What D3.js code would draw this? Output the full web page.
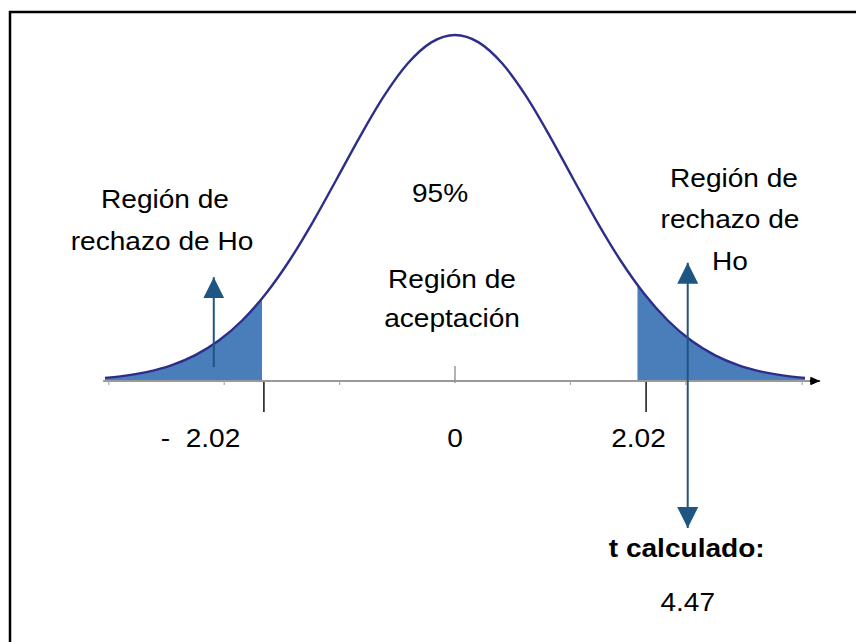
<!DOCTYPE html>
<html>
<head>
<meta charset="utf-8">
<script src="https://cdn.jsdelivr.net/npm/d3@7"></script>
<style>
  html, body { margin: 0; padding: 0; background: #fff; }
  svg { display: block; }
  text { font-family: "Liberation Sans", Arial, sans-serif; fill: #000; white-space: pre; }
</style>
</head>
<body>
<svg id="chart" width="856" height="642"></svg>
<script>
// ---- data ----
const tValues  = [-3.7, -3.5, -3.25, -3.0, -2.75, -2.5, -2.25, -2.0, -1.75, -1.5, -1.25, -1.0, -0.75, -0.5, -0.25, 0,
                  0.25, 0.5, 0.75, 1.0, 1.25, 1.5, 1.75, 2.0, 2.25, 2.5, 2.75, 3.0, 3.25, 3.5, 3.7];
const density  = [0.009, 0.0147, 0.0263, 0.0451, 0.074, 0.1162, 0.1749, 0.2522, 0.3483, 0.4608, 0.5839, 0.7086, 0.8239, 0.9175, 0.9787, 1,
                  0.9787, 0.9175, 0.8239, 0.7086, 0.5839, 0.4608, 0.3483, 0.2522, 0.1749, 0.1162, 0.074, 0.0451, 0.0263, 0.0147, 0.009];
const criticalValues = [-2.02, 2.02];
const tickLabels = ["-  2.02", "0", "2.02"];
const tickLabelValues = [-2.69, 0, 1.94];
const shadeLeft = [-3.7, -2.04];
const shadeRight = [1.95, 3.7];
const minorTicks = [-3.66, -2.44, -1.22, 1.22, 2.44, 3.67];
const tCalculado = 4.47;
const arrowLeftX = -2.55;
const arrowRightX = 2.46;

const svg = d3.select("#chart");

// border (only top and left edges visible)
svg.append("rect").attr("x", 10).attr("y", 12).attr("width", 900).attr("height", 700)
  .attr("fill", "none").attr("stroke", "#000").attr("stroke-width", 2.5);

const x = d3.scaleLinear().domain([-4, 4]).range([455 - 378.4, 455 + 378.4]);
const y = d3.scaleLinear().domain([0, 1]).range([381, 35]);

const pts = tValues.map((t, i) => ({ t, d: density[i] }));

// clip paths for shaded tails
const defs = svg.append("defs");
[["clipL", shadeLeft], ["clipR", shadeRight]].forEach(([id, r]) => {
  defs.append("clipPath").attr("id", id).append("rect")
    .attr("x", x(r[0]) - 2).attr("y", 0)
    .attr("width", x(r[1]) - x(r[0]) + 2).attr("height", y(0));
});
// arrow markers
const mk = (id, color, w, h) => {
  defs.append("marker").attr("id", id).attr("viewBox", `0 0 ${w} ${h}`)
    .attr("refX", w).attr("refY", h / 2).attr("markerWidth", w).attr("markerHeight", h)
    .attr("markerUnits", "userSpaceOnUse").attr("orient", "auto-start-reverse")
    .append("path").attr("d", `M0,0L${w},${h/2}L0,${h}Z`).attr("fill", color);
};
mk("arrB", "#1f5583", 21, 21);
mk("arrK", "#000", 9, 8);

const area = d3.area().x(d => x(d.t)).y0(y(0)).y1(d => y(d.d)).curve(d3.curveMonotoneX);
const line = d3.line().x(d => x(d.t)).y(d => y(d.d)).curve(d3.curveMonotoneX);

svg.append("path").datum(pts).attr("d", area).attr("fill", "#4a7ebb").attr("clip-path", "url(#clipL)");
svg.append("path").datum(pts).attr("d", area).attr("fill", "#4a7ebb").attr("clip-path", "url(#clipR)");

// baseline axis
svg.append("line").attr("x1", x(-3.72)).attr("x2", x(3.85)).attr("y1", y(0)).attr("y2", y(0))
  .attr("stroke", "#999").attr("stroke-width", 2).attr("marker-end", "url(#arrK)");
svg.append("line").attr("x1", x(3.75)).attr("x2", x(3.86)).attr("y1", y(0)).attr("y2", y(0))
  .attr("stroke", "#000").attr("stroke-width", 1.2).attr("marker-end", "url(#arrK)");

// minor ticks
svg.selectAll(".minor").data(minorTicks).enter().append("line")
  .attr("x1", d => x(d)).attr("x2", d => x(d)).attr("y1", y(0)).attr("y2", y(0) + 4)
  .attr("stroke", "#aaa").attr("stroke-width", 1.2);
// zero tick
svg.append("line").attr("x1", x(0)).attr("x2", x(0)).attr("y1", y(0) - 15).attr("y2", y(0) + 2)
  .attr("stroke", "#999").attr("stroke-width", 1.5);
// critical value ticks
svg.selectAll(".crit").data(criticalValues).enter().append("line")
  .attr("x1", d => x(d)).attr("x2", d => x(d)).attr("y1", y(0) + 1).attr("y2", y(0) + 31)
  .attr("stroke", "#111").attr("stroke-width", 1.5);

// curve
svg.append("path").datum(pts).attr("d", line).attr("fill", "none")
  .attr("stroke", "#2d2d8c").attr("stroke-width", 2.4);

// arrows
svg.append("line").attr("x1", x(arrowLeftX)).attr("x2", x(arrowLeftX))
  .attr("y1", y(0.04)).attr("y2", y(0.3))
  .attr("stroke", "#1f5583").attr("stroke-width", 2).attr("marker-end", "url(#arrB)");
svg.append("line").attr("x1", x(arrowRightX)).attr("x2", x(arrowRightX))
  .attr("y1", y(0.342)).attr("y2", y(-0.425))
  .attr("stroke", "#1f5583").attr("stroke-width", 2)
  .attr("marker-start", "url(#arrB)").attr("marker-end", "url(#arrB)");

// text helper
function label(txt, cx, by, bold) {
  svg.append("text").attr("transform", `translate(${cx},${by}) scale(1.08,1)`)
    .attr("text-anchor", "middle").attr("font-size", 26)
    .attr("font-weight", bold ? "bold" : "normal").text(txt);
}
label("Región de", 165, 208);
label("rechazo de Ho", 162, 250);
label("95%", 440, 202);
label("Región de", 452, 288);
label("aceptación", 452, 327);
label("Región de", 734, 187);
label("rechazo de", 730, 228);
label("Ho", 730, 270);
tickLabels.forEach((t, i) => label(t, x(tickLabelValues[i]), 447));
label("t calculado:", x(arrowRightX) - 1, 557, true);
label(String(tCalculado), x(arrowRightX), 611);
</script>
</body>
</html>
